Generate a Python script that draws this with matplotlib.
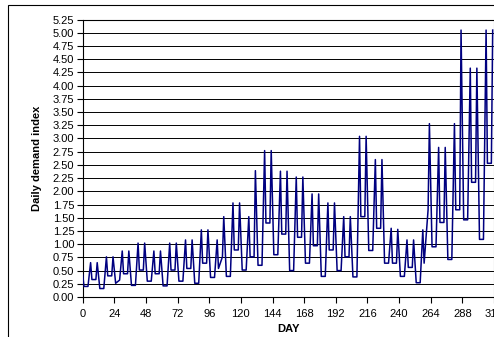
import matplotlib
matplotlib.use("Agg")
import matplotlib.pyplot as plt
from matplotlib.patches import Rectangle

plt.rcParams['font.family'] = ['Liberation Sans', 'DejaVu Sans']

# 12-day cycles: low valley, peak, plateau (first day may dip), second peak
start_value = 0.42
valley_a = [0.20, 0.16, 0.26, 0.22, 0.30, 0.21, 0.30, 0.26, 0.37, 0.39, 0.51, 0.60, 0.80,
            0.50, 0.64, 0.39, 0.50, 0.38, 0.88, 0.64, 0.39, 0.27, 0.95, 0.71, 1.46, 1.09]
valley_b = [0.20, 0.16, 0.32, 0.22, 0.30, 0.21, 0.30, 0.26, 0.37, 0.39, 0.51, 0.60, 0.80,
            0.50, 0.64, 0.39, 0.50, 0.38, 0.88, 0.64, 0.39, 0.27, 0.95, 0.71, 1.46, 1.09]
peak1 = [0.65, 0.76, 0.87, 1.02, 0.87, 1.02, 1.08, 1.27, 1.08, 1.78, 1.52, 2.77, 2.38,
         2.27, 1.95, 1.78, 1.52, 3.04, 2.60, 1.30, 1.08, 1.27, 2.83, 3.28, 4.33, 5.05]
dip = [0.33, 0.40, 0.44, 0.51, 0.44, 0.51, 0.54, 0.64, 0.54, 0.89, 0.76, 1.40, 1.19,
       1.13, 0.97, 0.89, 0.76, 1.52, 1.30, 0.64, 0.56, 0.64, 1.41, 1.65, 2.17, 2.53]
plateau = [0.33, 0.40, 0.44, 0.51, 0.44, 0.51, 0.54, 0.64, 0.76, 0.89, 0.76, 1.40, 1.19,
           1.13, 0.97, 0.89, 0.76, 1.52, 1.30, 0.64, 0.56, 1.65, 1.41, 1.65, 2.17, 2.53]
peak2 = [0.65, 0.76, 0.87, 1.02, 0.87, 1.02, 1.08, 1.27, 1.52, 1.78, 2.39, 2.77, 2.38,
         2.27, 1.95, 1.78, 1.52, 3.04, 2.60, 1.28, 1.08, 3.28, 2.83, 5.05, 4.33, 5.05]
# day within a cycle for each of the above
offsets = [1, 4, 6, 7, 10, 11]
x_ticks = list(range(0, 313, 24))
y_ticks = [i * 0.25 for i in range(22)]

days = [0]
vals = [start_value]
for c in range(len(peak1)):
    for off, v in zip(offsets, [valley_a[c], valley_b[c], peak1[c], dip[c], plateau[c], peak2[c]]):
        days.append(12 * c + off)
        vals.append(v)

fig = plt.figure(figsize=(4.94, 3.37), dpi=100)
ax = fig.add_axes([0.1674, 0.1187, 0.8326, 0.8234])
ax.plot(days, vals, color='#000080', lw=1.1, zorder=3)

ax.set_xlim(0, 312)
ax.set_ylim(0, 5.25)
ax.set_xticks(x_ticks)
ax.set_yticks(y_ticks)
ax.set_yticklabels(['%.2f' % v for v in y_ticks])
ax.grid(axis='y', color='black', lw=0.7)
ax.set_axisbelow(True)
ax.tick_params(direction='out', length=4, width=0.8, labelsize=8, pad=2)
ax.tick_params(axis='x', pad=5)
for s in ['left', 'bottom', 'top']:
    ax.spines[s].set_color('black')
    ax.spines[s].set_linewidth(0.8)
ax.spines['right'].set_color('#808080')
ax.spines['right'].set_linewidth(0.8)

ax.set_xlabel('DAY', fontsize=8, fontweight='bold', labelpad=3)
ax.set_ylabel('Daily demand index', fontsize=8, fontweight='bold', labelpad=8)

fig.add_artist(Rectangle((8 / 494, -0.1), 1.2, 1 - 5 / 337 + 0.1, transform=fig.transFigure,
                         fill=False, edgecolor='black', lw=0.8))

fig.savefig('out.png', dpi=100)
